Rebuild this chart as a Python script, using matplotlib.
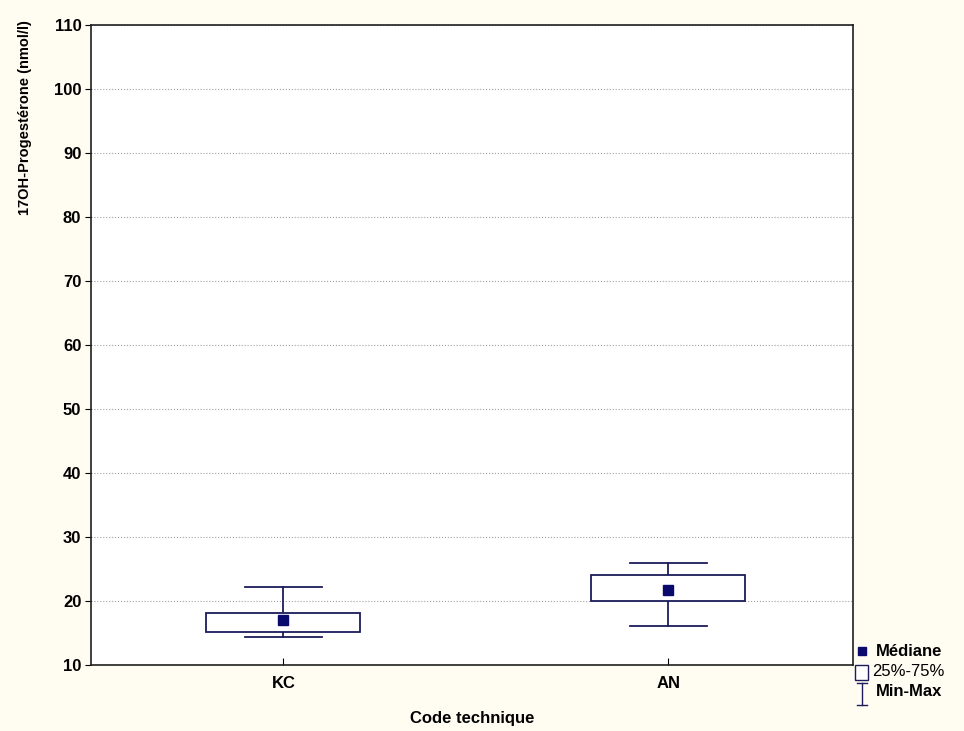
import numpy as np
import matplotlib
matplotlib.use('Agg')
import matplotlib.pyplot as plt
from matplotlib.lines import Line2D
from matplotlib.patches import Rectangle

groups = ['KC', 'AN']
mediane = [17.0, 21.7]
q25 = [15.2, 20.0]
q75 = [18.1, 24.1]
vmin = [14.4, 16.1]
vmax = [22.2, 25.9]

navy = '#1c1c5c'
med_col = '#0a0a6e'
plt.rcParams['font.family'] = ['Liberation Sans', 'DejaVu Sans']
plt.rcParams['font.weight'] = 'bold'

fig = plt.figure(figsize=(9.64, 7.31), dpi=100, facecolor='#fffcf2')
ax = fig.add_axes([91/964, 1-665/731, 762/964, 640/731])
ax.set_facecolor('white')

box_w = 0.40
cap_w = 0.20
for i in range(len(groups)):
    # moustaches
    ax.plot([i, i], [vmin[i], q25[i]], color=navy, lw=1.3, zorder=2)
    ax.plot([i, i], [q75[i], vmax[i]], color=navy, lw=1.3, zorder=2)
    ax.plot([i - cap_w/2, i + cap_w/2], [vmin[i], vmin[i]], color=navy, lw=1.3, zorder=2)
    ax.plot([i - cap_w/2, i + cap_w/2], [vmax[i], vmax[i]], color=navy, lw=1.3, zorder=2)
    ax.add_patch(Rectangle((i - box_w/2, q25[i]), box_w, q75[i] - q25[i],
                           facecolor='white', edgecolor=navy, lw=1.3, zorder=3))
ax.plot(range(len(groups)), mediane, 's', color=med_col, ms=7, zorder=4)

ax.set_xlim(-0.5, 1.48)
ax.set_ylim(10, 110)
ax.set_yticks(np.arange(10, 111, 10))
ax.set_xticks(range(len(groups)))
ax.set_xticklabels(groups)
ax.yaxis.grid(True, linestyle=':', color='#a0a0a0', lw=0.8)
ax.set_axisbelow(True)
ax.tick_params(axis='y', direction='out', length=4, labelsize=12, colors='black', pad=3)
ax.tick_params(axis='x', direction='in', length=5, labelsize=12, pad=8)
for s in ax.spines.values():
    s.set_linewidth(1.2)
    s.set_color('#202020')

ax.set_ylabel('17OH-Progestérone (nmol/l)', fontsize=10.5, fontweight='bold', loc='top')
ax.yaxis.set_label_coords(-0.078, 1.008)
ax.set_xlabel('Code technique', fontsize=12, fontweight='bold')
ax.xaxis.set_label_coords(0.5, -0.072)

# legende
fig.add_artist(Line2D([862/964], [1-651/731], marker='s', color=med_col, ms=5.5, ls='none'))
fig.text(876/964, 1-651/731, 'Médiane', fontsize=12, fontweight='bold', va='center')
fig.add_artist(Rectangle((855/964, 1-680/731), 13/964, 15/731, facecolor='white',
                         edgecolor=navy, lw=1, transform=fig.transFigure))
fig.text(872/964, 1-672/731, '25%-75%', fontsize=12, fontweight='normal', va='center')
fig.add_artist(Line2D([862/964, 862/964], [1-683/731, 1-705/731], color=navy, lw=1))
fig.add_artist(Line2D([857/964, 867/964], [1-683/731, 1-683/731], color=navy, lw=1))
fig.add_artist(Line2D([857/964, 867/964], [1-705/731, 1-705/731], color=navy, lw=1))
fig.text(876/964, 1-692/731, 'Min-Max', fontsize=12, fontweight='bold', va='center')

fig.savefig('out.png', dpi=100, facecolor=fig.get_facecolor())
